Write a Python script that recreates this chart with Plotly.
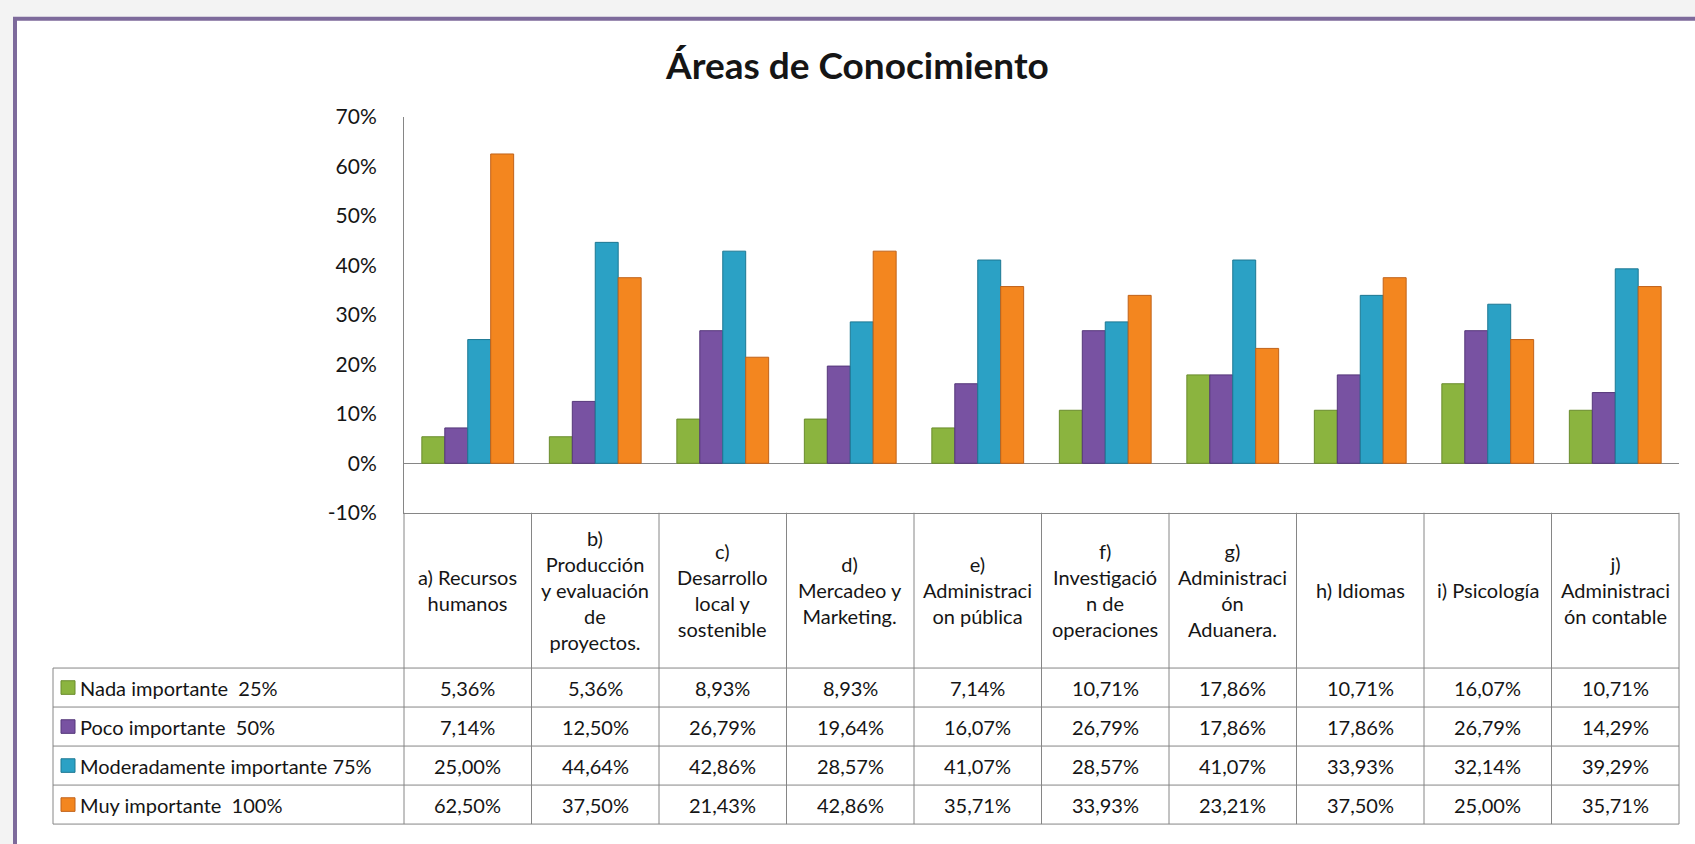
import plotly.graph_objects as go

# ---- data -------------------------------------------------------------
categories = [
    "a) Recursos<br>humanos",
    "b)<br>Producción<br>y evaluación<br>de<br>proyectos.",
    "c)<br>Desarrollo<br>local y<br>sostenible",
    "d)<br>Mercadeo y<br>Marketing.",
    "e)<br>Administraci<br>on pública",
    "f)<br>Investigació<br>n de<br>operaciones",
    "g)<br>Administraci<br>ón<br>Aduanera.",
    "h) Idiomas",
    "i) Psicología",
    "j)<br>Administraci<br>ón contable",
]
series_names = [
    "Nada importante  25%",
    "Poco importante  50%",
    "Moderadamente importante 75%",
    "Muy importante  100%",
]
nada = [0.0536, 0.0536, 0.0893, 0.0893, 0.0714, 0.1071, 0.1786, 0.1071, 0.1607, 0.1071]
poco = [0.0714, 0.1250, 0.2679, 0.1964, 0.1607, 0.2679, 0.1786, 0.1786, 0.2679, 0.1429]
moderado = [0.2500, 0.4464, 0.4286, 0.2857, 0.4107, 0.2857, 0.4107, 0.3393, 0.3214, 0.3929]
muy = [0.6250, 0.3750, 0.2143, 0.4286, 0.3571, 0.3393, 0.2321, 0.3750, 0.2500, 0.3571]
y_ticks = [-0.1, 0.0, 0.1, 0.2, 0.3, 0.4, 0.5, 0.6, 0.7]
y_tick_labels = ["-10%", "0%", "10%", "20%", "30%", "40%", "50%", "60%", "70%"]
title_text = "Áreas de Conocimiento"

series_values = [nada, poco, moderado, muy]
fills = ["#8bb43f", "#7852a2", "#2ba1c5", "#f3861f"]
edges = ["#6a8c2c", "#55377a", "#1d7893", "#c0621a"]

# ---- page geometry (pixels) ------------------------------------------
W, H = 1695, 844
PLOT_L, PLOT_R = 404, 1679
Y_TOP, Y_BOT = 106, 514          # 70% and -10%
TABLE_L = 53
HEADER_BOT = 674
ROW_H = 40.2
TABLE_BOT = HEADER_BOT + 4 * ROW_H
GRID = "#868686"
FONT = "Lato, 'Open Sans', sans-serif"
TXT = "#151515"


def px(x):
    return x / W


def py(y):
    return 1 - y / H


fig = go.Figure()

for name, vals, c, e in zip(series_names, series_values, fills, edges):
    fig.add_trace(go.Bar(
        x=categories, y=vals, name=name,
        marker=dict(color=c, line=dict(color=e, width=1)),
        showlegend=False,
    ))

shapes = []
annotations = []

# outer frame
shapes.append(dict(type="rect", xref="paper", yref="paper",
                   x0=px(15), x1=px(W + 20), y0=py(5), y1=py(H + 20),
                   line=dict(color="#7d6a9b", width=4), fillcolor="white",
                   layer="below"))

# title
annotations.append(dict(
    xref="paper", yref="paper", x=px(857), y=py(52),
    text=f"<b>{title_text}</b>", showarrow=False,
    xanchor="center", yanchor="middle",
    font=dict(family=FONT, size=37, color=TXT),
))

# data table grid
ncol = len(categories)
colw = (PLOT_R - PLOT_L) / ncol
line_style = dict(color=GRID, width=1)
for k in range(ncol + 1):
    xk = PLOT_L + k * colw
    shapes.append(dict(type="line", xref="paper", yref="paper",
                       x0=px(xk), x1=px(xk), y0=py(Y_BOT), y1=py(TABLE_BOT),
                       line=line_style, layer="above"))
shapes.append(dict(type="line", xref="paper", yref="paper",
                   x0=px(TABLE_L), x1=px(TABLE_L), y0=py(HEADER_BOT), y1=py(TABLE_BOT),
                   line=line_style, layer="above"))
for r in range(5):
    yr = HEADER_BOT + r * ROW_H
    shapes.append(dict(type="line", xref="paper", yref="paper",
                       x0=px(TABLE_L), x1=px(PLOT_R), y0=py(yr), y1=py(yr),
                       line=line_style, layer="above"))

# header cells (category names)
for i, cat in enumerate(categories):
    annotations.append(dict(
        xref="paper", yref="paper",
        x=px(PLOT_L + (i + 0.5) * colw), y=py((Y_BOT + HEADER_BOT) / 2),
        text=cat, showarrow=False, xanchor="center", yanchor="middle",
        font=dict(family=FONT, size=20, color=TXT),
    ))

# series rows: key, label, values
for r, (name, vals, c, e) in enumerate(zip(series_names, series_values, fills, edges)):
    yc = HEADER_BOT + (r + 0.5) * ROW_H
    shapes.append(dict(type="rect", xref="paper", yref="paper",
                       x0=px(61), x1=px(75), y0=py(yc - 7), y1=py(yc + 7),
                       fillcolor=c, line=dict(color=e, width=1), layer="above"))
    annotations.append(dict(
        xref="paper", yref="paper", x=px(78), y=py(yc),
        text=name, showarrow=False, xanchor="left", yanchor="middle",
        font=dict(family=FONT, size=20, color=TXT),
    ))
    for i, v in enumerate(vals):
        annotations.append(dict(
            xref="paper", yref="paper",
            x=px(PLOT_L + (i + 0.5) * colw), y=py(yc),
            text=f"{v * 100:.2f}%".replace(".", ","),
            showarrow=False, xanchor="center", yanchor="middle",
            font=dict(family=FONT, size=20, color=TXT),
        ))

fig.update_layout(
    width=W, height=H, autosize=False,
    margin=dict(l=0, r=0, t=0, b=0),
    paper_bgcolor="#f3f3f3", plot_bgcolor="white",
    barmode="group", bargap=0.28, bargroupgap=0,
    xaxis=dict(domain=[px(PLOT_L), px(PLOT_R)], showticklabels=False,
               showgrid=False, ticks="", showline=True, linecolor=GRID,
               linewidth=1, zeroline=False),
    yaxis=dict(domain=[py(Y_BOT), py(Y_TOP)], range=[-0.1, 0.7],
               tickvals=y_ticks, ticktext=y_tick_labels, showgrid=False,
               ticks="", ticklabelstandoff=22, showline=True, linecolor=GRID,
               linewidth=1, zeroline=True, zerolinecolor=GRID, zerolinewidth=1,
               tickfont=dict(family=FONT, size=21, color=TXT)),
    shapes=shapes, annotations=annotations,
)

fig.write_html("out.html")
